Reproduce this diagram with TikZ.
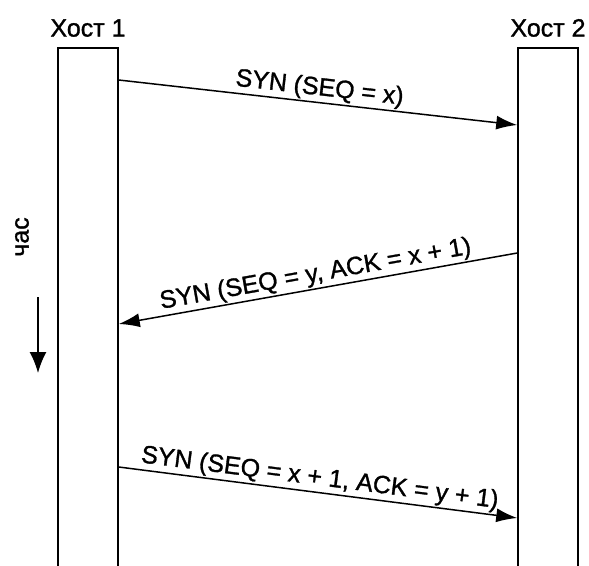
\documentclass[tikz,border=0pt]{standalone}
\usepackage{fontspec}
\setmainfont{Liberation Sans}[RawFeature={embolden=1.2}]
\usetikzlibrary{arrows.meta, positioning, calc}

\begin{document}
\begin{tikzpicture}[
        x=1pt, y=-1pt,
        font=\fontsize{25}{30}\selectfont,
        host/.style={rectangle, draw=black, line width=1.5pt, minimum width=60pt, minimum height=540pt, anchor=north, inner sep=0pt},
        hostname/.style={inner sep=0pt},
        msg/.style={draw, line width=1.5pt, -{Latex[length=21pt, width=14pt]}},
        msgtext/.style={midway, above, sloped, inner sep=1.5pt}
    ]
        \useasboundingbox (0,0) rectangle (589,565);

        \node[host] (host1) at (88,47) {};
        \node[host] (host2) at (548,47) {};
        \node[hostname, above=10pt of host1] (name1) {Хост 1};
        \node[hostname, above=10pt of host2] (name2) {Хост 2};

        % points on the bars
        \coordinate (a1) at ($(host1.north east)+(0,33)$);
        \coordinate (b1) at ($(host2.north west)+(0,78)$);
        \coordinate (b2) at ($(host2.north west)+(0,206)$);
        \coordinate (a2) at ($(host1.north east)+(0,277)$);
        \coordinate (a3) at ($(host1.north east)+(0,420)$);
        \coordinate (b3) at ($(host2.north west)+(0,471)$);

        \draw[msg] (a1) -- node[msgtext] {SYN (SEQ = x)} (b1);
        \draw[msg] (b2) -- node[msgtext] {SYN (SEQ = y, ACK = x + 1)} (a2);
        \draw[msg] (a3) -- node[msgtext] {SYN (SEQ = x + 1, ACK = y + 1)} (b3);

        % time axis
        \node[hostname, rotate=90] (time) at (22,237) {час};
        \coordinate (t0) at (38,297);
        \coordinate (t1) at (38,373);
        \draw[line width=1.5pt, -{Latex[length=21pt, width=17pt]}] (t0) -- (t1);

    \end{tikzpicture}
\end{document}
